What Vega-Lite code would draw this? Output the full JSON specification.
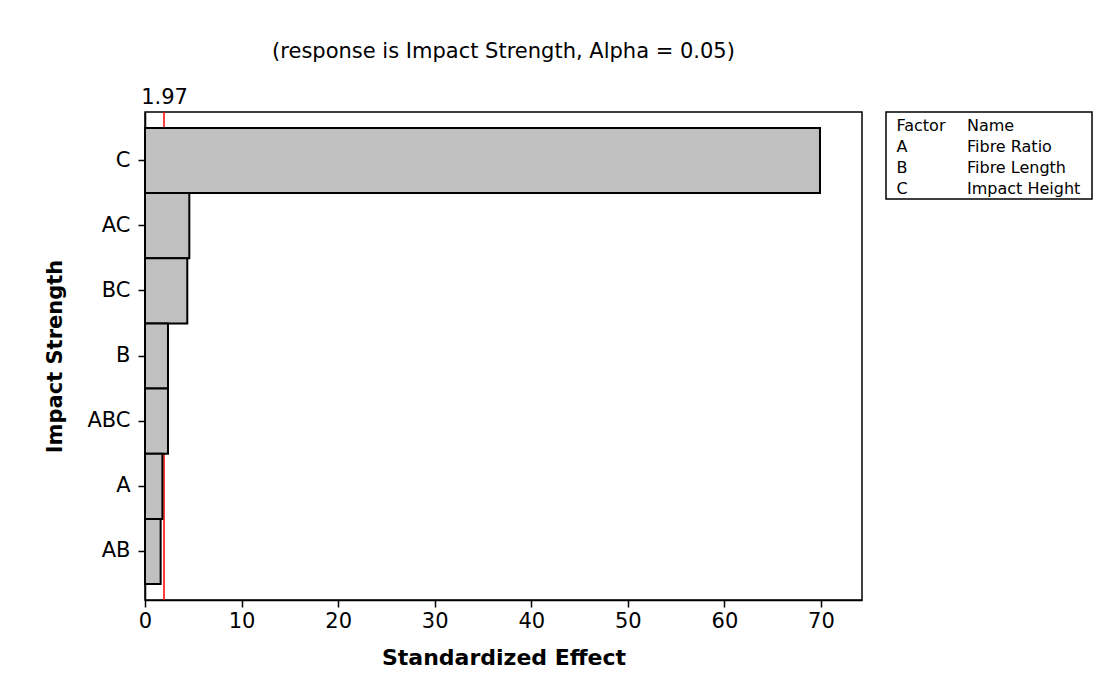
{
  "$schema": "https://vega.github.io/schema/vega-lite/v6.json",
  "autosize": {"type": "pad"},
  "padding": {"left": 44, "top": 40, "right": 0, "bottom": 0},
  "background": "white",
  "spacing": 24,
  "bounds": "flush",
  "config": {
    "font": "DejaVu Sans",
    "view": {"stroke": "black", "strokeWidth": 1.5},
    "axis": {
      "grid": false,
      "labelFont": "DejaVu Sans",
      "titleFont": "DejaVu Sans",
      "labelColor": "black",
      "titleColor": "black",
      "domainColor": "black",
      "tickColor": "black",
      "labelFontSize": 21,
      "titleFontSize": 21,
      "titleFontWeight": "bold",
      "tickSize": 7,
      "domainWidth": 1.5,
      "tickWidth": 1.5
    }
  },
  "hconcat": [
    {
      "width": 717,
      "height": 488,
      "title": {"text": "(response is Impact Strength, Alpha = 0.05)", "fontSize": 21, "fontWeight": "normal", "font": "DejaVu Sans", "color": "black", "offset": 24},
      "layer": [
        {
          "data": {"values": [{"alpha": 1.97}]},
          "mark": {"type": "rule", "color": "#ff0000", "strokeWidth": 1.5},
          "encoding": {
            "x": {"field": "alpha", "type": "quantitative", "scale": {"domain": [0, 74.25], "nice": false},
              "axis": {"orient": "top", "values": [1.97], "format": ".2f", "ticks": false, "domain": false, "title": null, "labelPadding": 5, "labelFlush": false}}
          }
        },
        {
          "data": {"values": [
            {"term": "C", "effect": 69.9},
            {"term": "AC", "effect": 4.59},
            {"term": "BC", "effect": 4.38},
            {"term": "B", "effect": 2.38},
            {"term": "ABC", "effect": 2.38},
            {"term": "A", "effect": 1.8},
            {"term": "AB", "effect": 1.62}
          ]},
          "mark": {"type": "bar", "fill": "#c0c0c0", "stroke": "black", "strokeWidth": 2},
          "encoding": {
            "y": {"field": "term", "type": "nominal", "sort": ["C", "AC", "BC", "B", "ABC", "A", "AB"],
              "scale": {"paddingInner": 0, "paddingOuter": 0.245},
              "axis": {"title": "Impact Strength", "labelPadding": 8, "titlePadding": 21, "domain": true}},
            "x": {"field": "effect", "type": "quantitative", "scale": {"domain": [0, 74.25], "nice": false},
              "axis": {"orient": "bottom", "values": [0, 10, 20, 30, 40, 50, 60, 70], "labelFlush": false, "title": "Standardized Effect", "titleFontSize": 22, "labelPadding": 3, "titlePadding": 16}}
          }
        }
      ],
      "resolve": {"axis": {"x": "independent"}}
    },
    {
      "width": 206,
      "height": 87,
      "data": {"values": [
        {"r": 0, "c": 0, "t": "Factor"}, {"r": 0, "c": 1, "t": "Name"},
        {"r": 1, "c": 0, "t": "A"}, {"r": 1, "c": 1, "t": "Fibre Ratio"},
        {"r": 2, "c": 0, "t": "B"}, {"r": 2, "c": 1, "t": "Fibre Length"},
        {"r": 3, "c": 0, "t": "C"}, {"r": 3, "c": 1, "t": "Impact Height"}
      ]},
      "mark": {"type": "text", "align": "left", "baseline": "middle", "fontSize": 16, "font": "DejaVu Sans", "color": "black"},
      "encoding": {
        "x": {"field": "c", "type": "quantitative", "scale": {"domain": [-0.149, 2.773], "nice": false, "zero": false}, "axis": null},
        "y": {"field": "r", "type": "quantitative", "scale": {"domain": [-0.667, 3.476], "nice": false, "zero": false, "reverse": true}, "axis": null},
        "text": {"field": "t"}
      }
    }
  ]
}
